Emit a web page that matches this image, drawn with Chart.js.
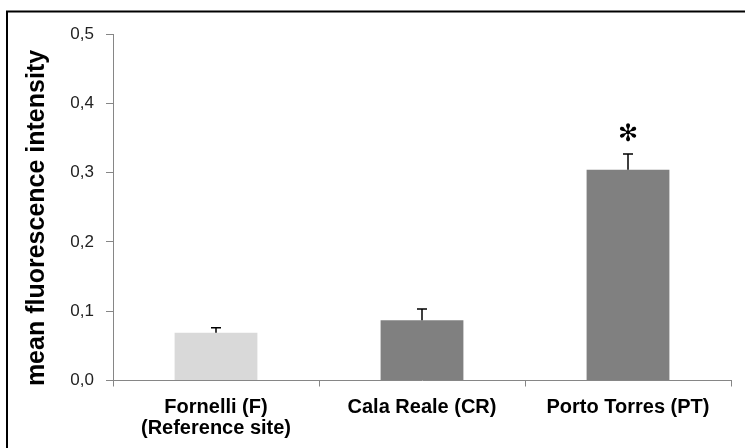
<!DOCTYPE html>
<html lang="en">
<head>
    <meta charset="UTF-8">
    <title>mean fluorescence intensity</title>
    <script src="https://cdn.jsdelivr.net/npm/chart.js@4.4.1/dist/chart.umd.min.js"></script>
    <style>
        html, body { margin: 0; padding: 0; background: #fff; }
        .wrap { position: relative; width: 745px; height: 448px; }
    </style>
</head>
<body>
    <div class="wrap">
        <canvas id="fluoChart" width="745" height="448"></canvas>
    </div>

    <script>
        // data
        const sites = [['Fornelli (F)', '(Reference site)'], 'Cala Reale (CR)', 'Porto Torres (PT)'];
        const meanValues = [0.069, 0.087, 0.304];
        const errValues = [0.007, 0.016, 0.023];
        const signif = ['', '', '✻'];
        const barColors = ['#D9D9D9', '#808080', '#808080'];
        const yTicks = [0, 0.1, 0.2, 0.3, 0.4, 0.5];
        const yTitle = 'mean fluorescence intensity';

        const AXIS_GREY = '#868686';
        const FONT = '"Liberation Sans", Arial, sans-serif';

        // frame (only top + left edges are visible in the picture)
        const framePlugin = {
            id: 'frame',
            beforeDraw(chart) {
                const ctx = chart.ctx;
                ctx.save();
                ctx.fillStyle = '#fff';
                ctx.fillRect(0, 0, chart.width, chart.height);
                ctx.strokeStyle = '#000';
                ctx.lineWidth = 2;
                ctx.beginPath();
                ctx.moveTo(7, chart.height);
                ctx.lineTo(7, 11.5);
                ctx.lineTo(chart.width, 11.5);
                ctx.stroke();
                ctx.restore();
            },
            afterDraw(chart) {
                // y title, placed by hand (sits a bit below the plot centre)
                const ctx = chart.ctx;
                ctx.save();
                ctx.translate(37, 218);
                ctx.rotate(-Math.PI / 2);
                ctx.font = 'bold 25px ' + FONT;
                ctx.fillStyle = '#000';
                ctx.textAlign = 'center';
                ctx.textBaseline = 'middle';
                ctx.fillText(yTitle, 0, 0);
                ctx.restore();
            }
        };

        // error bars + significance mark
        const errorBarPlugin = {
            id: 'errorBars',
            afterDatasetsDraw(chart) {
                const ctx = chart.ctx;
                const meta = chart.getDatasetMeta(0);
                const y = chart.scales.y;
                ctx.save();
                meta.data.forEach((bar, i) => {
                    const yTop = y.getPixelForValue(meanValues[i] + errValues[i]);
                    const yBase = y.getPixelForValue(meanValues[i]);
                    ctx.strokeStyle = '#000';
                    ctx.lineWidth = 1.5;
                    ctx.beginPath();
                    ctx.moveTo(bar.x, yBase);
                    ctx.lineTo(bar.x, yTop);
                    ctx.moveTo(bar.x - 5, yTop);
                    ctx.lineTo(bar.x + 5, yTop);
                    ctx.stroke();

                    if (signif[i]) {
                        ctx.font = '24px "DejaVu Sans"';
                        ctx.fillStyle = '#000';
                        ctx.textAlign = 'center';
                        ctx.textBaseline = 'alphabetic';
                        const m = ctx.measureText(signif[i]);
                        const cy = yTop - 21;
                        const base = cy + (m.actualBoundingBoxAscent - m.actualBoundingBoxDescent) / 2;
                        ctx.fillText(signif[i], bar.x, base);
                    }
                });
                ctx.restore();
            }
        };

        const ctx = document.getElementById('fluoChart').getContext('2d');
        new Chart(ctx, {
            type: 'bar',
            data: {
                labels: sites,
                datasets: [{
                    data: meanValues,
                    backgroundColor: barColors,
                    borderWidth: 0,
                    barPercentage: 1,
                    categoryPercentage: 0.402
                }]
            },
            options: {
                responsive: false,
                animation: false,
                devicePixelRatio: 1,
                layout: { padding: { left: 0, top: 34, right: 14, bottom: 0 } },
                plugins: {
                    legend: { display: false },
                    tooltip: { enabled: false }
                },
                scales: {
                    x: {
                        offset: true,
                        grid: {
                            offset: true,
                            drawOnChartArea: false,
                            drawTicks: true,
                            tickLength: 6,
                            color: AXIS_GREY
                        },
                        border: { color: AXIS_GREY, width: 1 },
                        ticks: {
                            color: '#000',
                            padding: 10,
                            maxRotation: 0,
                            font: { family: FONT, size: 20, weight: 'bold', lineHeight: 1.05 }
                        },
                        afterFit(scale) { scale.height = 67.5; }
                    },
                    y: {
                        min: 0,
                        max: 0.5,
                        afterBuildTicks(scale) { scale.ticks = yTicks.map(v => ({ value: v })); },
                        grid: {
                            drawOnChartArea: false,
                            drawTicks: true,
                            tickLength: 7,
                            color: AXIS_GREY
                        },
                        border: { color: AXIS_GREY, width: 1 },
                        ticks: {
                            color: '#222',
                            padding: 12,
                            font: { family: FONT, size: 17 },
                            callback: v => v.toFixed(1).replace('.', ',')
                        },
                        afterFit(scale) { scale.width = 113; }
                    }
                }
            },
            plugins: [framePlugin, errorBarPlugin]
        });
    </script>
</body>
</html>
